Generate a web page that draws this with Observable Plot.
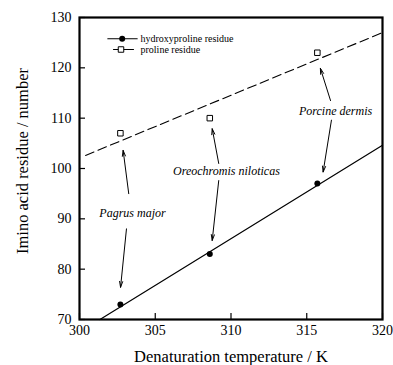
<!DOCTYPE html>
<html>
<head>
<meta charset="utf-8">
<script src="https://cdn.jsdelivr.net/npm/d3@7"></script>
<script src="https://cdn.jsdelivr.net/npm/@observablehq/plot@0.6"></script>
<style>
  html, body { margin: 0; padding: 0; background: white; }
  svg text { font-family: 'Liberation Serif', 'Times New Roman', serif; }
</style>
</head>
<body>
<div id="chart"></div>
<script>
// ---- data ----
const temps = [302.7, 308.6, 315.7];
const hydroxyproline = [73, 83, 97];
const proline = [107, 110, 123];
const species = ["Pagrus major", "Oreochromis niloticas", "Porcine dermis"];
const speciesLabelX = [303.5, 309.7, 316.9];
const speciesLabelY = [91.2, 99.5, 111.4];
// arrows from label to proline square (up) and to hydroxyproline dot (down)
const upArrowX1 = [303.25, 309.19, 316.57];
const upArrowY1 = [95.0, 101.0, 113.5];
const upArrowX2 = [302.88, 308.76, 315.9];
const upArrowY2 = [103.6, 107.9, 119.9];
const downArrowX1 = [303.1, 309.19, 316.63];
const downArrowY1 = [88.0, 97.6, 109.6];
const downArrowX2 = [302.71, 308.76, 316.08];
const downArrowY2 = [76.4, 85.7, 99.3];
// fitted lines (end points)
const hydroxyFitX = [301.35, 320];
const hydroxyFitY = [70, 104.6];
const prolineFitX = [300.4, 320];
const prolineFitY = [102.6, 127.0];
const xTicks = [300, 305, 310, 315, 320];
const yTicks = [70, 80, 90, 100, 110, 120, 130];
const legendLabels = ["hydroxyproline residue", "proline residue"];
const xLabel = "Denaturation temperature / K";
const yLabel = "Imino acid residue / number";

// ---- build tables ----
const hydroxyData = temps.map((t, i) => ({x: t, y: hydroxyproline[i]}));
const prolineData = temps.map((t, i) => ({x: t, y: proline[i]}));
const hydroxyFit = hydroxyFitX.map((x, i) => ({x, y: hydroxyFitY[i]}));
const prolineFit = prolineFitX.map((x, i) => ({x, y: prolineFitY[i]}));
const labels = species.map((s, i) => ({text: s, x: speciesLabelX[i], y: speciesLabelY[i]}));
const arrows = species.flatMap((s, i) => [
  {x1: upArrowX1[i], y1: upArrowY1[i], x2: upArrowX2[i], y2: upArrowY2[i]},
  {x1: downArrowX1[i], y1: downArrowY1[i], x2: downArrowX2[i], y2: downArrowY2[i]}
]);

const FONT = "'Liberation Serif', 'Times New Roman', serif";
const W = 393, H = 365;
const mL = 79, mR = 11, mT = 17, mB = 46;
const innerW = W - mL - mR, innerH = H - mT - mB;
const lineShape = {draw(context, l) { context.moveTo(0, 0); context.lineTo(0, -l); }};
const txt = {fontFamily: FONT, fill: "black", lineAnchor: "middle"};

const chart = Plot.plot({
  width: W,
  height: H,
  marginLeft: mL,
  marginRight: mR,
  marginTop: mT,
  marginBottom: mB,
  style: {fontFamily: FONT, background: "white", color: "black", overflow: "visible"},
  x: {domain: [300, 320], axis: null},
  y: {domain: [70, 130], axis: null},
  marks: [
    // inward ticks
    Plot.tickX(xTicks, {x: d => d, insetTop: innerH - 6, stroke: "black", strokeWidth: 1.2}),
    Plot.tickY(yTicks, {y: d => d, insetRight: innerW - 6, stroke: "black", strokeWidth: 1.2}),
    // tick labels
    Plot.text(xTicks, {...txt, x: d => d, text: d => String(d), frameAnchor: "bottom", dy: 11, textAnchor: "middle", fontSize: 14}),
    Plot.text(yTicks, {...txt, y: d => d, text: d => String(d), frameAnchor: "left", dx: -8, textAnchor: "end", fontSize: 14}),
    // axis titles
    Plot.text([xLabel], {...txt, text: d => d, frameAnchor: "bottom", dy: 37.7, textAnchor: "middle", fontSize: 16.5}),
    Plot.text([yLabel], {...txt, text: d => d, frameAnchor: "left", dx: -56.5, dy: -7.5, rotate: -90, textAnchor: "middle", fontSize: 16.5}),
    // fit lines
    Plot.line(hydroxyFit, {x: "x", y: "y", stroke: "black", strokeWidth: 1.2}),
    Plot.line(prolineFit, {x: "x", y: "y", stroke: "black", strokeWidth: 1.1, strokeDasharray: "9,4.5"}),
    // points
    Plot.dot(hydroxyData, {x: "x", y: "y", r: 3, fill: "black"}),
    Plot.dot(prolineData, {x: "x", y: "y", r: 3.1, symbol: "square", fill: "white", stroke: "black", strokeWidth: 1}),
    // annotations
    Plot.arrow(arrows, {x1: "x1", y1: "y1", x2: "x2", y2: "y2", stroke: "black", strokeWidth: 1, headLength: 9, headAngle: 30}),
    Plot.text(labels, {...txt, x: "x", y: "y", text: "text", textAnchor: "middle", fontSize: 12, fontStyle: "italic"}),
    // legend
    Plot.vector([0], {frameAnchor: "top-left", dx: 28.3, dy: 21.3, length: 29.4, rotate: 90, anchor: "start", shape: lineShape, stroke: "black", strokeWidth: 1.1}),
    Plot.dot([0], {frameAnchor: "top-left", dx: 42.7, dy: 21.3, r: 3, fill: "black"}),
    Plot.vector([0], {frameAnchor: "top-left", dx: 34, dy: 32, length: 20, rotate: 90, anchor: "start", shape: lineShape, stroke: "black", strokeWidth: 1.1}),
    Plot.dot([0], {frameAnchor: "top-left", dx: 41.5, dy: 32, r: 3.1, symbol: "square", fill: "white", stroke: "black", strokeWidth: 1}),
    Plot.text([legendLabels[0]], {...txt, text: d => d, frameAnchor: "top-left", dx: 61, dy: 21.3, textAnchor: "start", fontSize: 10}),
    Plot.text([legendLabels[1]], {...txt, text: d => d, frameAnchor: "top-left", dx: 61, dy: 32, textAnchor: "start", fontSize: 10}),
    // frame
    Plot.frame({stroke: "black", strokeWidth: 2.2})
  ]
});
document.getElementById("chart").appendChild(chart);
</script>
</body>
</html>
